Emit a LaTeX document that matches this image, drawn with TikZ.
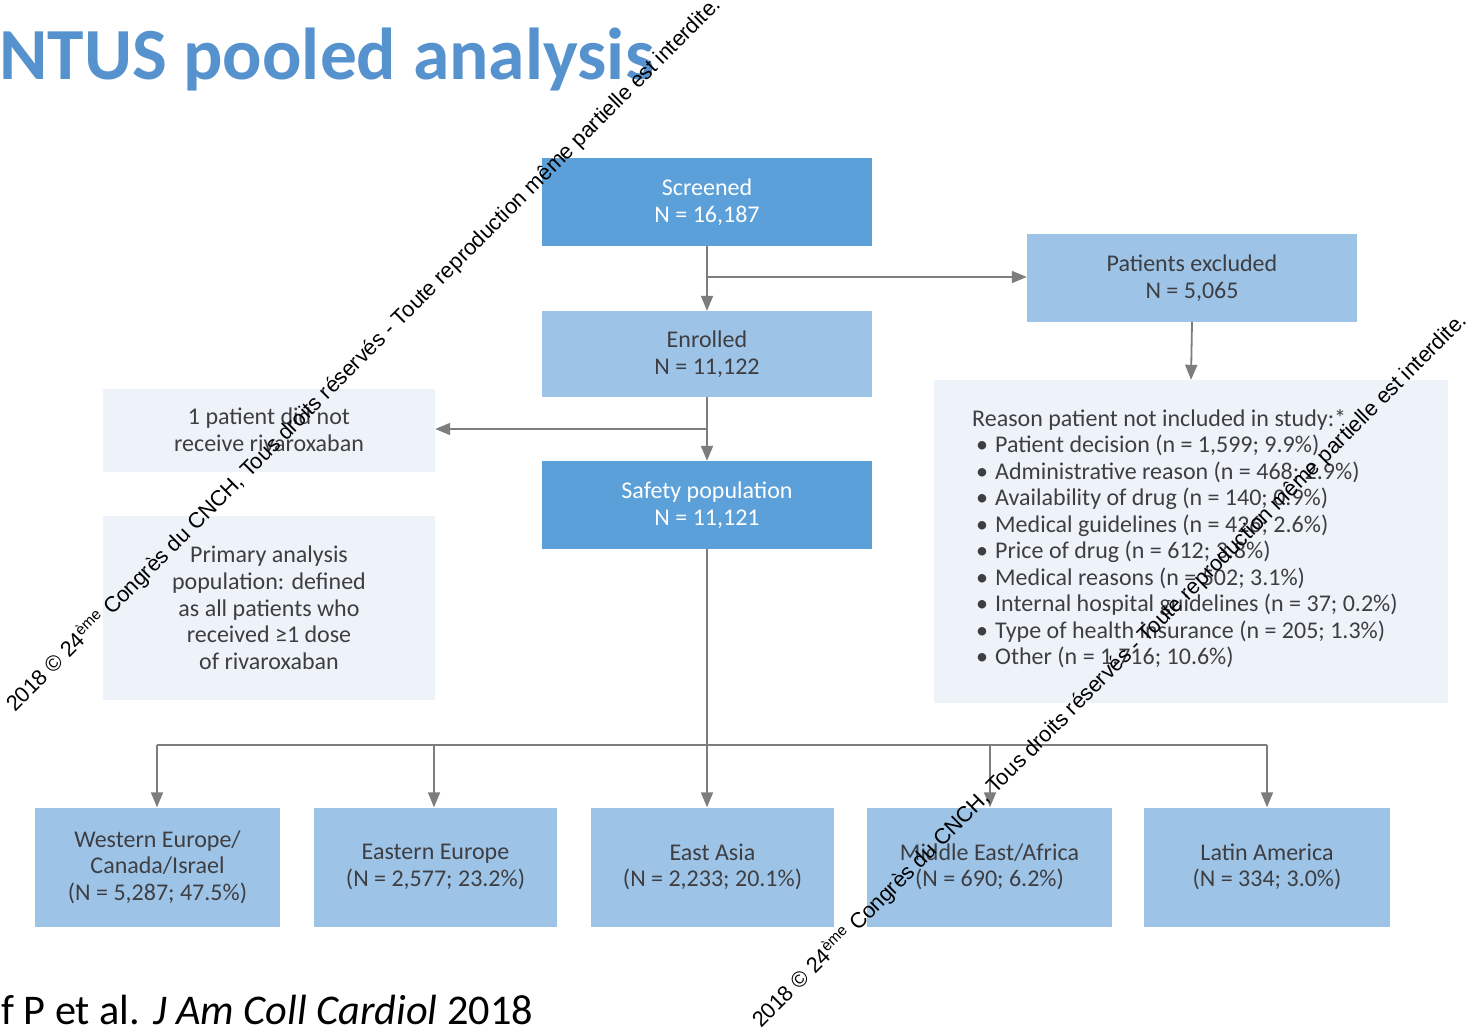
\documentclass[tikz,border=0pt]{standalone}
\usepackage{fontspec}
\setmainfont{Carlito}
\newfontfamily\wmfont{Liberation Sans}
\usetikzlibrary{arrows.meta}
\definecolor{darkbox}{RGB}{91,160,216}
\definecolor{lightbox}{RGB}{157,196,231}
\definecolor{paleboxfill}{RGB}{238,243,250}
\definecolor{boxtext}{RGB}{62,62,66}
\definecolor{linegray}{RGB}{125,125,125}
\definecolor{titleblue}{RGB}{86,146,206}
\begin{document}
\begin{tikzpicture}[x=1pt,y=-1pt,
  box/.style={minimum width=330pt, minimum height=88pt, inner sep=0pt, align=center, font=\fontsize{24}{27}\selectfont},
  darkb/.style={box, fill=darkbox, text=white},
  lightb/.style={box, fill=lightbox, text=boxtext},
  paleb/.style={box, fill=paleboxfill, text=boxtext},
  regionb/.style={lightb, minimum height=119pt, font=\fontsize{24}{26.5}\selectfont},
  conn/.style={draw=linegray, line width=1.8pt, -{Triangle[length=15pt,width=12pt]}},
  plainline/.style={draw=linegray, line width=1.8pt},
  wm/.style={font=\wmfont\fontsize{21.8}{22}\selectfont, rotate=45, anchor=base west, inner sep=0pt, text=black}
]
\clip (0,0) rectangle (1480,1033);
\fill[white] (0,0) rectangle (1480,1033);

\node[anchor=base west, text=titleblue, font=\bfseries\fontsize{73.5}{80}\selectfont, inner sep=0pt] (title) at (-1,80) {NTUS pooled analysis};
\node[anchor=base west, font=\fontsize{42.3}{48}\selectfont, inner sep=0pt] (cite) at (1,1024) {f P et al. \textit{J Am Coll Cardiol} 2018};

\node[darkb] (screened) at (707,202) {Screened\\N = 16,187};
\node[lightb, minimum height=86pt] (enrolled) at (707,354) {Enrolled\\N = 11,122};
\node[darkb] (safety) at (707,505) {Safety population\\N = 11,121};
\node[lightb] (excluded) at (1192,278) {Patients excluded\\N = 5,065};
\node[paleb, minimum width=514pt, minimum height=323pt] (reason) at (1191,541.5) {};
\node[anchor=north west, inner sep=0pt, align=left, text=boxtext, font=\fontsize{24}{26.5}\selectfont] (reasontxt) at (972,409) {Reason patient not included in study:*\\
\makebox[23pt][l]{\,\textbullet}Patient decision (n = 1,599; 9.9\%)\\
\makebox[23pt][l]{\,\textbullet}Administrative reason (n = 468; 2.9\%)\\
\makebox[23pt][l]{\,\textbullet}Availability of drug (n = 140; 0.9\%)\\
\makebox[23pt][l]{\,\textbullet}Medical guidelines (n = 426; 2.6\%)\\
\makebox[23pt][l]{\,\textbullet}Price of drug (n = 612; 3.8\%)\\
\makebox[23pt][l]{\,\textbullet}Medical reasons (n = 502; 3.1\%)\\
\makebox[23pt][l]{\,\textbullet}Internal hospital guidelines (n = 37; 0.2\%)\\
\makebox[23pt][l]{\,\textbullet}Type of health insurance (n = 205; 1.3\%)\\
\makebox[23pt][l]{\,\textbullet}Other (n = 1,716; 10.6\%)};

\node[paleb, minimum width=332pt, minimum height=83pt] (onepat) at (269,430) {1 patient did not\\receive rivaroxaban};
\node[paleb, minimum width=332pt, minimum height=184pt, font=\fontsize{24}{26.7}\selectfont] (primary) at (269,608) {Primary analysis\\population: defined\\as all patients who\\received ≥1 dose\\of rivaroxaban};

\node[regionb, minimum width=245pt] (western) at (157.5,867) {Western Europe/\\Canada/Israel\\(N = 5,287; 47.5\%)};
\node[regionb, minimum width=243pt] (eastern) at (435.5,867) {Eastern Europe\\(N = 2,577; 23.2\%)};
\node[regionb, minimum width=243pt] (eastasia) at (712.5,867) {East Asia\\(N = 2,233; 20.1\%)};
\node[regionb, minimum width=245pt] (mideast) at (989.5,867) {Middle East/Africa\\(N = 690; 6.2\%)};
\node[regionb, minimum width=246pt] (latin) at (1267,867) {Latin America\\(N = 334; 3.0\%)};

\draw[conn] (screened.south) -- (enrolled.north);
\coordinate (j1) at (707,277);
\draw[conn] (j1) -- (j1 -| excluded.west);
\draw[conn] (excluded.south) -- (reason.north);
\draw[conn] (enrolled.south) -- (safety.north);
\coordinate (j2) at (707,429);
\draw[conn] (j2) -- (j2 -| onepat.east);
\coordinate (j3) at (707,745);
\draw[plainline] (safety.south) -- (j3);
\coordinate (jw) at (157,745);
\coordinate (je) at (434,745);
\coordinate (jm) at (990,745);
\coordinate (jl) at (1267,745);
\draw[plainline] (jw) -- (jl);
\draw[conn] (jw) -- (jw |- western.north);
\draw[conn] (je) -- (je |- eastern.north);
\draw[conn] (j3) -- (j3 |- eastasia.north);
\draw[conn] (jm) -- (jm |- mideast.north);
\draw[conn] (jl) -- (jl |- latin.north);

\node[wm] (wm1) at (15,713) {2018 © 24\textsuperscript{ème} Congrès du CNCH, Tous droits réservés - Toute reproduction même partielle est interdite.};
\node[wm] (wm2) at (761,1029) {2018 © 24\textsuperscript{ème} Congrès du CNCH, Tous droits réservés - Toute reproduction même partielle est interdite.};
\end{tikzpicture}
\end{document}
